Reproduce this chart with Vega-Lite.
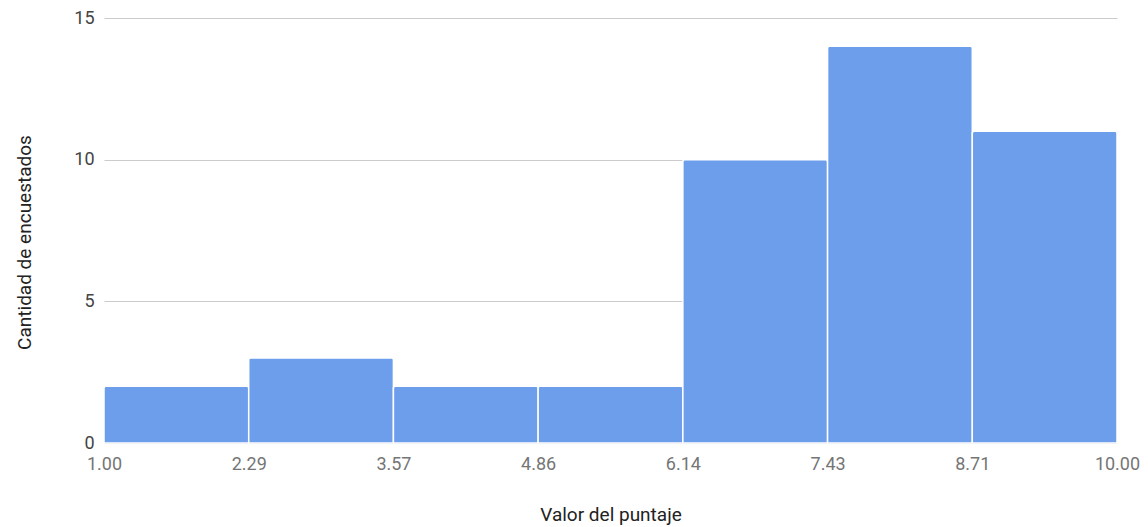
{
  "$schema": "https://vega.github.io/schema/vega-lite/v6.json",
  "width": 1013,
  "height": 425,
  "autosize": {"type": "none"},
  "padding": {"left": 104, "top": 18, "right": 31, "bottom": 84},
  "background": "white",
  "config": {"view": {"stroke": null}},
  "data": {
    "values": [
      {"start": 1.0, "end": 2.2857, "count": 2},
      {"start": 2.2857, "end": 3.5714, "count": 3},
      {"start": 3.5714, "end": 4.8571, "count": 2},
      {"start": 4.8571, "end": 6.1429, "count": 2},
      {"start": 6.1429, "end": 7.4286, "count": 10},
      {"start": 7.4286, "end": 8.7143, "count": 14},
      {"start": 8.7143, "end": 10.0, "count": 11}
    ]
  },
  "mark": {"type": "rect", "color": "#6d9eeb", "stroke": "white", "strokeWidth": 1.5, "cornerRadiusTopLeft": 2, "cornerRadiusTopRight": 2},
  "encoding": {
    "x": {
      "field": "start",
      "type": "quantitative",
      "scale": {"domain": [1, 10], "nice": false, "zero": false},
      "axis": {
        "title": "Valor del puntaje",
        "values": [1.0, 2.2857, 3.5714, 4.8571, 6.1429, 7.4286, 8.7143, 10.0],
        "format": ".2f",
        "grid": false,
        "domain": false,
        "ticks": false,
        "labelPadding": 12,
        "labelFont": "Roboto",
        "labelFontSize": 18,
        "labelColor": "#757575",
        "labelFlush": false,
        "labelOverlap": false,
        "titleFont": "Roboto",
        "titleFontSize": 19,
        "titleFontWeight": "normal",
        "titleColor": "#222222",
        "titleBaseline": "alphabetic",
        "titleY": 77
      }
    },
    "x2": {"field": "end"},
    "y": {
      "field": "count",
      "type": "quantitative",
      "scale": {"domain": [0, 15], "nice": false},
      "axis": {
        "title": "Cantidad de encuestados",
        "values": [0, 5, 10, 15],
        "grid": true,
        "gridColor": "#cccccc",
        "gridWidth": 1,
        "domain": false,
        "ticks": false,
        "labelPadding": 10,
        "labelFont": "Roboto",
        "labelFontSize": 18,
        "labelColor": "#444444",
        "titleFont": "Roboto",
        "titleFontSize": 19,
        "titleFontWeight": "normal",
        "titleColor": "#222222",
        "titleBaseline": "alphabetic",
        "titleAngle": -90,
        "titleX": -74,
        "titleY": 224
      }
    },
    "y2": {"datum": 0}
  }
}
